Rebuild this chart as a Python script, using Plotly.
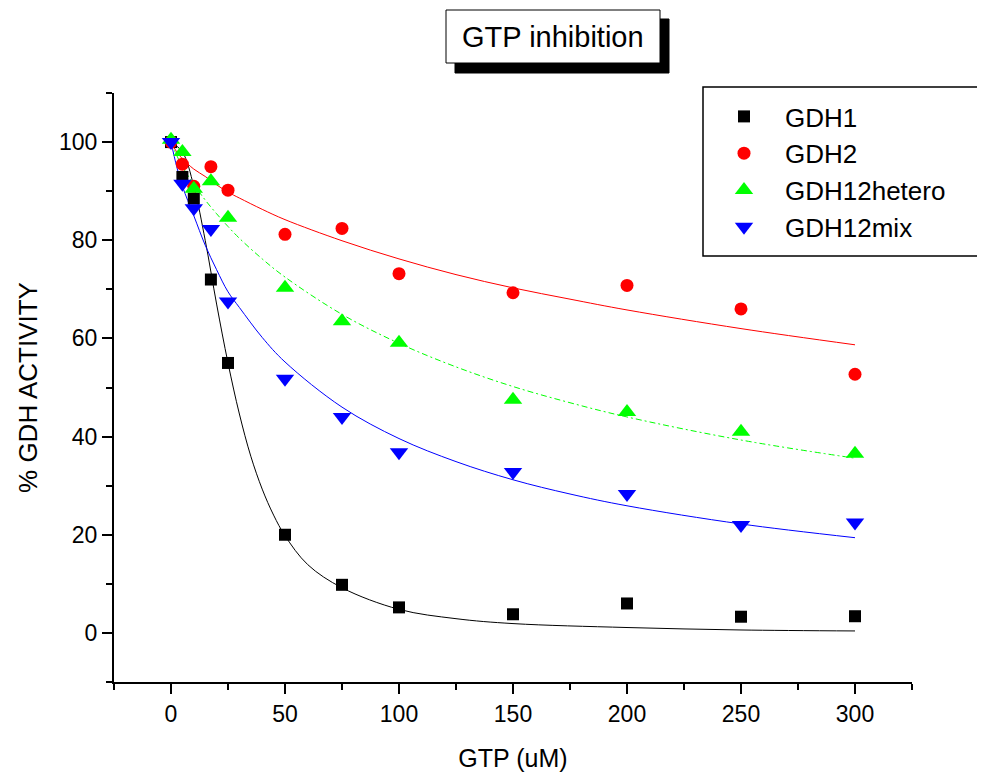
import plotly.graph_objects as go

# ---- measured data (GTP concentration, uM) ----
gtp = [0, 5, 10, 17.5, 25, 50, 75, 100, 150, 200, 250, 300]
gdh1 = [100, 92.9, 88.5, 72.0, 55.0, 20.0, 9.8, 5.2, 3.8, 6.0, 3.3, 3.4]
gdh2 = [100, 95.5, 91.0, 95.0, 90.2, 81.2, 82.4, 73.2, 69.3, 70.8, 66.0, 52.7]
gdh12hetero = [100.5, 98.0, 90.5, 92.0, 84.6, 70.3, 63.5, 59.1, 47.5, 45.0, 41.0, 36.5]
gdh12mix = [100, 91.5, 86.5, 82.3, 67.5, 51.8, 44.0, 36.8, 32.8, 28.3, 22.0, 22.5]

# ---- fitted curves ----
fit_x_black = [0, 5, 10, 15, 20, 25, 30, 35, 40, 45, 50, 60, 75, 100, 125, 150, 200, 250, 300]
fit_black = [100, 98, 91, 80, 67, 55, 44.6, 36, 29.3, 24, 19.8, 13.9, 9.2, 4.8, 2.9, 1.9, 1.1, 0.6, 0.4]

fit_x = [0, 2.5, 5, 10, 15, 20, 25, 30, 40, 50, 75, 100, 125, 150, 175, 200, 250, 300]
fit_red = [100, 98.0, 96.6, 94.5, 93.0, 91.3, 89.8, 88.6, 86.3, 84.2, 79.9, 76.2, 73.0, 70.3, 68.0, 65.8, 62.0, 58.7]
fit_green = [100, 97.3, 95.0, 91.4, 88.2, 85.4, 82.8, 80.4, 76.2, 72.5, 64.9, 59.0, 54.2, 50.2, 46.9, 44.0, 39.3, 35.6]
fit_blue = [100, 95.0, 91.0, 85.0, 79.0, 74.0, 69.5, 66.3, 60.2, 55.2, 46.0, 39.6, 34.9, 31.2, 28.3, 25.9, 22.2, 19.4]

x_ticks = [0, 50, 100, 150, 200, 250, 300]
y_ticks = [0, 20, 40, 60, 80, 100]

FONT = "Arial, Liberation Sans, sans-serif"

fig = go.Figure()

# fitted lines (drawn first)
fig.add_trace(go.Scatter(x=fit_x_black, y=fit_black, mode="lines", line=dict(color="black", width=1, shape="spline"),
                         showlegend=False, hoverinfo="skip"))
fig.add_trace(go.Scatter(x=fit_x, y=fit_red, mode="lines", line=dict(color="#FF0000", width=1, shape="spline"),
                         showlegend=False, hoverinfo="skip"))
fig.add_trace(go.Scatter(x=fit_x, y=fit_green, mode="lines",
                         line=dict(color="#00FF00", width=1, shape="spline", dash="6px,3px,2px,3px"),
                         showlegend=False, hoverinfo="skip"))
fig.add_trace(go.Scatter(x=fit_x, y=fit_blue, mode="lines", line=dict(color="#0000FF", width=1, shape="spline"),
                         showlegend=False, hoverinfo="skip"))

# data points
fig.add_trace(go.Scatter(x=gtp, y=gdh1, mode="markers", name="GDH1",
                         marker=dict(symbol="square", size=12, color="black")))
fig.add_trace(go.Scatter(x=gtp, y=gdh2, mode="markers", name="GDH2",
                         marker=dict(symbol="circle", size=13, color="#FF0000")))
fig.add_trace(go.Scatter(x=gtp, y=gdh12hetero, mode="markers", name="GDH12hetero",
                         marker=dict(symbol="triangle-up", size=16, color="#00FF00")))
fig.add_trace(go.Scatter(x=gtp, y=gdh12mix, mode="markers", name="GDH12mix",
                         marker=dict(symbol="triangle-down", size=16, color="#0000FF")))

# page places the figure 8px from the window corner
OFF = 8
WIN_W, WIN_H = 985, 778
W, H = WIN_W - OFF, WIN_H - OFF
# plot area in window pixels
AX_L, AX_R, AX_T, AX_B = 114, 912, 93, 682
L, R, T, B = AX_L - OFF, WIN_W - AX_R, AX_T - OFF, WIN_H - AX_B
pw, ph = AX_R - AX_L, AX_B - AX_T

def px(xp):
    return (xp - AX_L) / pw

def py(yp):
    return (AX_B - yp) / ph

# title box with shadow
fig.add_shape(type="rect", xref="paper", yref="paper", x0=px(455), x1=px(669), y0=py(73), y1=py(19),
              fillcolor="black", line=dict(color="black", width=1), layer="above")
fig.add_shape(type="rect", xref="paper", yref="paper", x0=px(446), x1=px(660), y0=py(63), y1=py(10),
              fillcolor="white", line=dict(color="black", width=1), layer="above")
fig.add_annotation(xref="paper", yref="paper", x=px(553), y=py(37), text="GTP inhibition", showarrow=False,
                   font=dict(family=FONT, size=29, color="black"), xanchor="center", yanchor="middle")

# legend frame (runs past the right edge of the picture, as in the original)
fig.add_shape(type="rect", xref="paper", yref="paper", x0=px(703), x1=px(1010), y0=py(256), y1=py(87),
              line=dict(color="black", width=1.5), fillcolor="rgba(0,0,0,0)", layer="above")

fig.update_layout(
    width=W, height=H,
    margin=dict(l=L, r=R, t=T, b=B, autoexpand=False),
    paper_bgcolor="white", plot_bgcolor="white",
    font=dict(family=FONT, color="black"),
    showlegend=True,
    legend=dict(x=px(703), y=py(172), xanchor="left", yanchor="middle",
                borderwidth=0, bgcolor="rgba(0,0,0,0)",
                font=dict(family=FONT, size=26, color="black"),
                itemwidth=72, tracegroupgap=0),
    xaxis=dict(range=[-25, 325], showline=True, linecolor="black", linewidth=2, mirror=False,
               showgrid=False, zeroline=False, ticks="outside", ticklen=10, tickwidth=2, tickcolor="black",
               tickvals=x_ticks, ticktext=[str(v) for v in x_ticks],
               tickfont=dict(family=FONT, size=23, color="black"),
               minor=dict(dtick=25, tick0=0, ticks="outside", ticklen=6, tickwidth=2, tickcolor="black"),
               title=dict(text="GTP (uM)", font=dict(family=FONT, size=25, color="black"), standoff=24)),
    yaxis=dict(range=[-10, 110], showline=True, linecolor="black", linewidth=2, mirror=False,
               showgrid=False, zeroline=False, ticks="outside", ticklen=10, tickwidth=2, tickcolor="black",
               tickvals=y_ticks, ticktext=[str(v) for v in y_ticks],
               tickfont=dict(family=FONT, size=23, color="black"),
               minor=dict(dtick=20, tick0=10, ticks="outside", ticklen=6, tickwidth=2, tickcolor="black"),
               title=dict(text="% GDH ACTIVITY", font=dict(family=FONT, size=26, color="black"), standoff=14)),
)

fig.write_html("out.html")
